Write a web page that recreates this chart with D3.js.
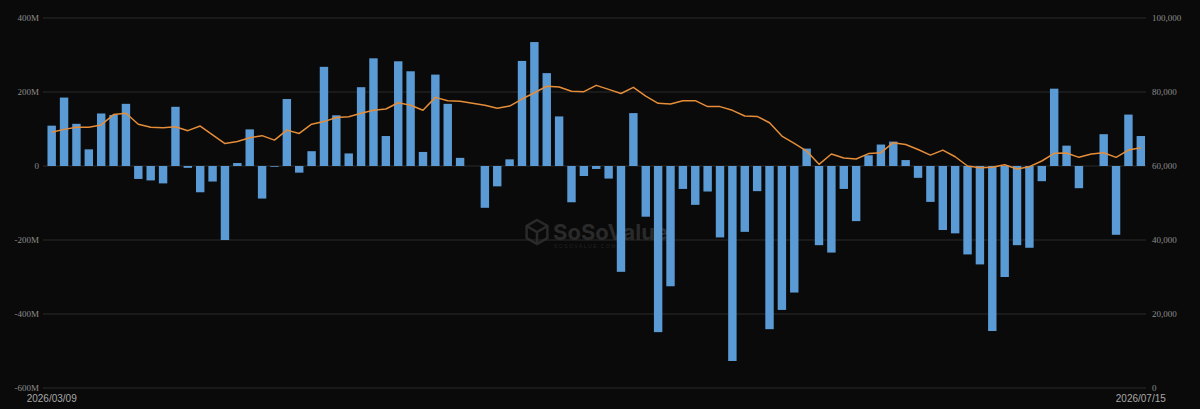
<!DOCTYPE html>
<html>
<head>
    <meta charset="utf-8">
    <title>ETF Daily Net Inflow</title>
    <script src="https://d3js.org/d3.v7.min.js"></script>
    <style>
        html, body { margin: 0; padding: 0; background: #0a0a0a; }
        .ylab { font-family: "Liberation Serif", "DejaVu Serif", serif; font-size: 9px; fill: #8c8c8c; }
        .xlab { font-family: "Liberation Sans", Arial, sans-serif; font-size: 10px; fill: #a8a8a8; }
    </style>
</head>
<body>
<svg id="chart" width="1200" height="409"></svg>
<script>
    // trading days 2026/03/09 - 2026/07/15 (NYSE holidays removed)
    const holidays = ["2026-04-03", "2026-05-25", "2026-06-19", "2026-07-03"];
    const fmtKey = d3.timeFormat("%Y-%m-%d");
    const fmtLab = d3.timeFormat("%Y/%m/%d");
    const days = d3.timeDay.range(new Date(2026, 2, 9), new Date(2026, 6, 16))
        .filter(d => d.getDay() !== 0 && d.getDay() !== 6 && !holidays.includes(fmtKey(d)))
        .map(fmtLab);

    // daily net inflow (M USD)
    const netInflow = [
        109, 185, 114, 45, 142, 138, 168, -35, -39, -47,
        160, -5, -71, -42, -200, 8, 99, -88, -2, 181,
        -18, 40, 268, 137, 34, 213, 291, 81, 283, 256,
        38, 247, 168, 22, 0, -113, -55, 18, 284, 335,
        251, 134, -98, -27, -8, -34, -286, 143, -137, -449,
        -325, -62, -105, -69, -193, -527, -178, -68, -441, -389,
        -342, 47, -214, -234, -62, -149, 29, 58, 66, 16,
        -32, -97, -173, -182, -239, -266, -446, -300, -214, -221,
        -41, 209, 55, -60, 0, 86, -186, 139, 81
    ];

    // price (USD), right axis
    const price = [
        69100, 69900, 70450, 70450, 71100, 73900, 74250, 71300, 70450, 70350,
        70600, 69550, 70800, 68400, 66050, 66600, 67650, 68200, 67000, 69700,
        68800, 71300, 72000, 73100, 73300, 74250, 75050, 75400, 77100, 76400,
        75050, 78550, 77650, 77500, 76950, 76400, 75600, 76200, 78100, 79800,
        81550, 81350, 80200, 80100, 81800, 80700, 79600, 81270, 78900, 76950,
        76750, 77650, 77650, 76050, 76050, 75050, 73500, 73400, 71700, 68100,
        66100, 64050, 60450, 63250, 62150, 61900, 63350, 63600, 66300, 65800,
        64450, 62950, 64300, 62500, 60000, 59550, 59640, 60350, 59200, 59820,
        61350, 63430, 63500, 62340, 63250, 63600, 62340, 64300, 64950
    ];

    const leftTicks = [-600, -400, -200, 0, 200, 400];
    const rightTicks = [0, 20000, 40000, 60000, 80000, 100000];

    const svg = d3.select("#chart");
    const x0 = 43, x1 = 1146, yTop = 18, yBot = 388;

    const x = d3.scaleBand()
        .domain(days)
        .range([45.5, 1147])
        .paddingInner(0.32)
        .paddingOuter(0.16);

    const yL = d3.scaleLinear().domain([-600, 400]).range([yBot, yTop]);
    const yR = d3.scaleLinear().domain([0, 100000]).range([yBot, yTop]);

    svg.append("rect").attr("width", 1200).attr("height", 409).attr("fill", "#0a0a0a");

    // grid
    svg.append("g").selectAll("line")
        .data(leftTicks)
        .join("line")
        .attr("x1", x0).attr("x2", x1)
        .attr("y1", d => yL(d)).attr("y2", d => yL(d))
        .attr("stroke", "#2b2b2b")
        .attr("stroke-width", 1);

    // watermark
    const wm = svg.append("g").attr("transform", "translate(537,232)").attr("opacity", 0.9);
    wm.append("path")
        .attr("d", "M0,-12 L10.4,-6 L10.4,6 L0,12 L-10.4,6 L-10.4,-6 Z M-10.4,-6 L0,0 L10.4,-6 M0,0 L0,12")
        .attr("fill", "none").attr("stroke", "#2e2e2e").attr("stroke-width", 2.5);
    wm.append("text")
        .attr("x", 16).attr("y", 8)
        .attr("font-family", "Inter, 'Liberation Sans', sans-serif")
        .attr("font-weight", 700).attr("font-size", 22)
        .attr("fill", "#2e2e2e")
        .text("SoSoValue");
    wm.append("text")
        .attr("x", 17).attr("y", 16)
        .attr("font-family", "'Liberation Sans', sans-serif")
        .attr("font-size", 5).attr("letter-spacing", 1.5)
        .attr("fill", "#262626")
        .text("SOSOVALUE.COM");

    // bars
    svg.append("g").selectAll("rect")
        .data(netInflow)
        .join("rect")
        .attr("x", (d, i) => x(days[i]))
        .attr("width", x.bandwidth())
        .attr("y", d => yL(Math.max(0, d)))
        .attr("height", d => Math.abs(yL(d) - yL(0)))
        .attr("fill", "#5b9bd5");

    // price line
    const line = d3.line()
        .x((d, i) => x(days[i]) + x.bandwidth() / 2)
        .y(d => yR(d));
    svg.append("path")
        .datum(price)
        .attr("d", line)
        .attr("fill", "none")
        .attr("stroke", "#e58d38")
        .attr("stroke-width", 1.5)
        .attr("stroke-linejoin", "round");

    // left axis labels
    svg.append("g").selectAll("text")
        .data(leftTicks)
        .join("text")
        .attr("class", "ylab")
        .attr("x", 39).attr("y", d => yL(d) + 3)
        .attr("text-anchor", "end")
        .text(d => d + (d === 0 ? "" : "M"));

    // right axis labels
    svg.append("g").selectAll("text")
        .data(rightTicks)
        .join("text")
        .attr("class", "ylab")
        .attr("x", 1152).attr("y", d => yR(d) + 3)
        .attr("text-anchor", "start")
        .text(d => d === 0 ? "0" : d3.format(",")(d));

    // x labels, first and last day only
    const ends = [days[0], days[days.length - 1]];
    svg.append("g").selectAll("text")
        .data(ends)
        .join("text")
        .attr("class", "xlab")
        .attr("x", d => x(d) + x.bandwidth() / 2)
        .attr("y", 402)
        .attr("text-anchor", "middle")
        .text(d => d);
</script>
</body>
</html>
